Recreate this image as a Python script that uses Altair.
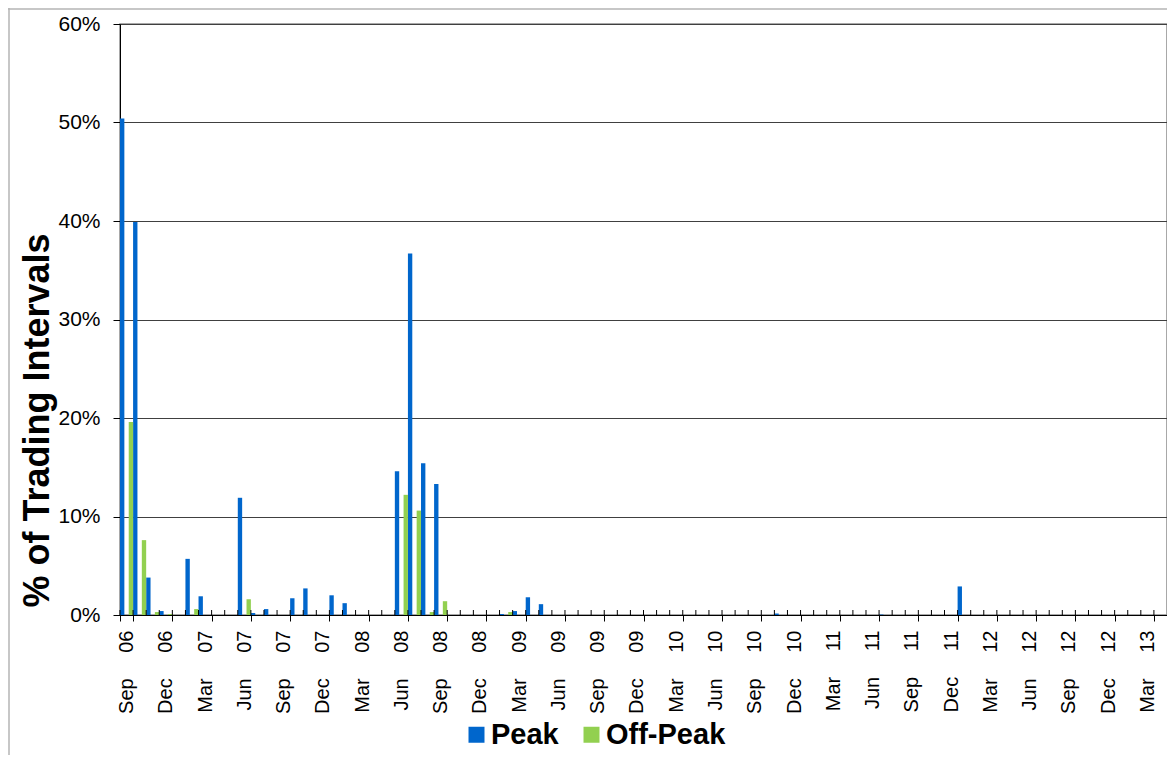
import altair as alt
import pandas as pd

months = [
    "Sep 06", "Oct 06", "Nov 06", "Dec 06",
    "Jan 07", "Feb 07", "Mar 07", "Apr 07", "May 07", "Jun 07",
    "Jul 07", "Aug 07", "Sep 07", "Oct 07", "Nov 07", "Dec 07",
    "Jan 08", "Feb 08", "Mar 08", "Apr 08", "May 08", "Jun 08",
    "Jul 08", "Aug 08", "Sep 08", "Oct 08", "Nov 08", "Dec 08",
    "Jan 09", "Feb 09", "Mar 09", "Apr 09", "May 09", "Jun 09",
    "Jul 09", "Aug 09", "Sep 09", "Oct 09", "Nov 09", "Dec 09",
    "Jan 10", "Feb 10", "Mar 10", "Apr 10", "May 10", "Jun 10",
    "Jul 10", "Aug 10", "Sep 10", "Oct 10", "Nov 10", "Dec 10",
    "Jan 11", "Feb 11", "Mar 11", "Apr 11", "May 11", "Jun 11",
    "Jul 11", "Aug 11", "Sep 11", "Oct 11", "Nov 11", "Dec 11",
    "Jan 12", "Feb 12", "Mar 12", "Apr 12", "May 12", "Jun 12",
    "Jul 12", "Aug 12", "Sep 12", "Oct 12", "Nov 12", "Dec 12",
    "Jan 13", "Feb 13", "Mar 13", "Apr 13",
]

# % of trading intervals, Peak
peak = [
    50.4, 39.9, 3.8, 0.4,
    0.0, 5.7, 1.9, 0.0, 0.0, 11.9, 0.2, 0.6, 0.0, 1.7, 2.7, 0.0,
    2.0, 1.2, 0.0, 0.0, 0.0, 14.6, 36.7, 15.4, 13.3, 0.0, 0.0, 0.0,
    0.0, 0.1, 0.4, 1.8, 1.1, 0.0, 0.0, 0.0, 0.0, 0.0, 0.0, 0.0,
    0.0, 0.0, 0.0, 0.0, 0.0, 0.0, 0.0, 0.0, 0.0, 0.0, 0.15, 0.0,
    0.0, 0.0, 0.0, 0.0, 0.0, 0.0, 0.05, 0.0, 0.0, 0.0, 0.0, 0.0,
    2.9, 0.0, 0.0, 0.0, 0.0, 0.0, 0.0, 0.0, 0.0, 0.0, 0.0, 0.0,
    0.0, 0.0, 0.0, 0.0,
]

# % of trading intervals, Off-Peak
offpeak = [
    19.6, 7.6, 0.3, 0.1,
    0.0, 0.6, 0.0, 0.0, 0.0, 1.6, 0.0, 0.0, 0.0, 0.0, 0.0, 0.0,
    0.0, 0.0, 0.0, 0.0, 0.0, 12.2, 10.6, 0.3, 1.4, 0.0, 0.0, 0.0,
    0.0, 0.3, 0.0, 0.0, 0.0, 0.0, 0.0, 0.0, 0.0, 0.0, 0.0, 0.0,
    0.0, 0.0, 0.0, 0.0, 0.0, 0.0, 0.0, 0.0, 0.0, 0.0, 0.0, 0.0,
    0.0, 0.0, 0.0, 0.0, 0.0, 0.0, 0.0, 0.0, 0.0, 0.0, 0.0, 0.0,
    0.0, 0.0, 0.0, 0.0, 0.0, 0.0, 0.0, 0.0, 0.0, 0.0, 0.0, 0.0,
    0.0, 0.0, 0.0, 0.0,
]

series_names = ["Peak", "Off-Peak"]
series_colors = ["#0066CC", "#92D050"]
y_ticks = [0, 10, 20, 30, 40, 50, 60]
label_months = months[::3]

df = pd.DataFrame({
    "month": months * 2,
    "series": ["Peak"] * len(months) + ["Off-Peak"] * len(months),
    "value": peak + offpeak,
})
ticks_df = pd.DataFrame({"month": months})
frame_df = pd.DataFrame({"a": [0]})

W, H = 1047, 591
FONT = "Liberation Sans"

x_scale = alt.Scale(domain=months, paddingInner=0, paddingOuter=0)
x_axis = alt.Axis(
    values=label_months, title=None, labelAngle=270,
    labelFont=FONT, labelFontSize=20, labelColor="black",
    labelPadding=9, tickSize=6, tickColor="black", tickBand="extent",
    domainColor="black", grid=False, labelOverlap=False,
    labelExpr="replace(datum.label, ' ', '\u2003\u00a0')",
)

bars = alt.Chart(df).mark_bar().encode(
    x=alt.X("month:N", scale=x_scale, sort=months, axis=x_axis),
    xOffset=alt.XOffset(
        "series:N",
        scale=alt.Scale(domain=["Peak", "gap", "Off-Peak"], paddingInner=0, paddingOuter=0),
    ),
    y=alt.Y(
        "value:Q", scale=alt.Scale(domain=[0, 60], nice=False),
        axis=alt.Axis(
            values=y_ticks, labelExpr="datum.value + '%'",
            title="% of Trading Intervals", titleFont=FONT, titleFontSize=36,
            titleFontWeight="bold", titleColor="black", titleAngle=270,
            titleX=-64, titleY=396,
            labelFont=FONT, labelFontSize=21, labelColor="black", labelPadding=13,
            tickSize=7, tickColor="black", domainColor="black",
            gridColor="#404040",
        ),
    ),
    color=alt.Color(
        "series:N",
        scale=alt.Scale(domain=series_names, range=series_colors),
        legend=alt.Legend(
            orient="none", legendX=342, legendY=696, direction="horizontal",
            title=None, symbolType="square", symbolSize=256, symbolStrokeWidth=0,
            labelFont=FONT, labelFontSize=29, labelFontWeight="bold",
            labelColor="black", labelOffset=0, columnPadding=18,
        ),
    ),
)

minor = alt.Chart(ticks_df).mark_rule(color="black", strokeWidth=1).encode(
    x=alt.X("month:N", scale=x_scale, sort=months, bandPosition=0, axis=x_axis),
    y=alt.value(H - 5),
    y2=alt.value(H),
)

frame_left = alt.Chart(frame_df).mark_rule(color="#b4b4b4", strokeWidth=1.5).encode(
    x=alt.value(-111), y=alt.value(-16), y2=alt.value(H + 200),
)
frame_top = alt.Chart(frame_df).mark_rule(color="#b4b4b4", strokeWidth=1.5).encode(
    x=alt.value(-112), x2=alt.value(W + 20), y=alt.value(-15),
)

chart = alt.layer(frame_left, frame_top, bars, minor).properties(
    width=W, height=H,
    autosize=alt.AutoSizeParams(type="none"),
    padding={"left": 112, "top": 16, "right": 0, "bottom": 140},
).configure_view(stroke="#8c8c8c", strokeWidth=1.5)

chart.save("out.html", embed_options={"renderer": "svg", "actions": False})
